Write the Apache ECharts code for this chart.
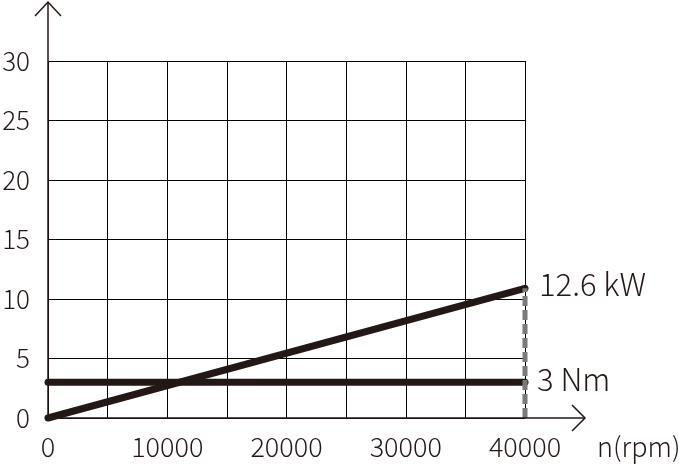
<!DOCTYPE html>
<html><head><meta charset="utf-8">
<script src="https://cdn.jsdelivr.net/npm/echarts@6/dist/echarts.min.js"></script>
<style>html,body{margin:0;padding:0;background:#fff}#c{width:679px;height:464px}</style>
</head><body><div id="c"></div>
<script>
const speed = [0, 40000];
const power = [0, 10.9];
const torque = [3, 3];
const powerName = '12.6 kW';
const torqueName = '3 Nm';
const xTicks = [0, 10000, 20000, 30000, 40000];
const yTicks = [0, 5, 10, 15, 20, 25, 30];
const xTitle = 'n(rpm)';

const ink = '#231815';
const font = '"Noto Sans CJK JP", "Noto Sans", sans-serif';
const chart = echarts.init(document.getElementById('c'));
chart.setOption({
  animation: false,
  grid: {left: 48, right: 154, top: 61, bottom: 46, containLabel: false, outerBoundsMode: 'none'},
  xAxis: {
    type: 'value', min: 0, max: 40000, interval: 5000,
    axisLine: {show: false}, axisTick: {show: false},
    splitLine: {show: true, lineStyle: {color: '#000', width: 1}},
    axisLabel: {
      color: ink, fontFamily: font, fontSize: 27, fontWeight: 300, margin: 15,
      formatter: v => xTicks.indexOf(v) >= 0 ? String(v) : ''
    }
  },
  yAxis: {
    type: 'value', min: 0, max: 30, interval: 5,
    axisLine: {show: false}, axisTick: {show: false},
    splitLine: {show: true, lineStyle: {color: '#000', width: 1}},
    axisLabel: {
      color: ink, fontFamily: font, fontSize: 26, fontWeight: 300, margin: 18,
      formatter: v => yTicks.indexOf(v) >= 0 ? String(v) : ''
    }
  },
  series: [
    {
      type: 'line', name: 'dash', data: [[speed[1], 0], [speed[1], power[1]]], clip: false,
      symbol: 'none', lineStyle: {color: '#7a7a7a', width: 5, type: [10, 4]}, z: 4
    },
    {
      type: 'line', name: torqueName, data: speed.map((s, i) => [s, torque[i]]), clip: false,
      symbol: 'none', lineStyle: {color: ink, width: 7, cap: 'round'}, z: 3,
      endLabel: {show: true, formatter: '{a}', color: ink, fontFamily: font, fontSize: 31, fontWeight: 300, distance: 12, offset: [0, -3]}
    },
    {
      type: 'line', name: powerName, data: speed.map((s, i) => [s, power[i]]), clip: false,
      symbol: 'none', lineStyle: {color: ink, width: 7, cap: 'round'}, z: 3,
      endLabel: {show: true, formatter: '{a}', color: ink, fontFamily: font, fontSize: 31, fontWeight: 300, distance: 14, offset: [0, -4]}
    }
  ]
});
const o = chart.convertToPixel({gridIndex: 0}, [0, 0]);
const xEnd = chart.convertToPixel({gridIndex: 0}, [40000, 0]);
const lw = {stroke: '#231815', lineWidth: 1.5, fill: null};
chart.setOption({
  graphic: [
    {type: 'polyline', shape: {points: [[o[0], o[1]], [o[0], 2]]}, style: lw, z: 10},
    {type: 'polyline', shape: {points: [[o[0] - 13, 16], [o[0], 2], [o[0] + 13, 16]]}, style: lw, z: 10},
    {type: 'polyline', shape: {points: [[o[0], o[1]], [xEnd[0] + 60, o[1]]]}, style: lw, z: 10},
    {type: 'polyline', shape: {points: [[xEnd[0] + 47, o[1] - 13], [xEnd[0] + 60, o[1]], [xEnd[0] + 47, o[1] + 13]]}, style: lw, z: 10},
    {type: 'text', x: 597, y: 447, style: {text: xTitle, fill: ink, font: '300 27px ' + font, textVerticalAlign: 'middle'}}
  ]
});
</script></body></html>
